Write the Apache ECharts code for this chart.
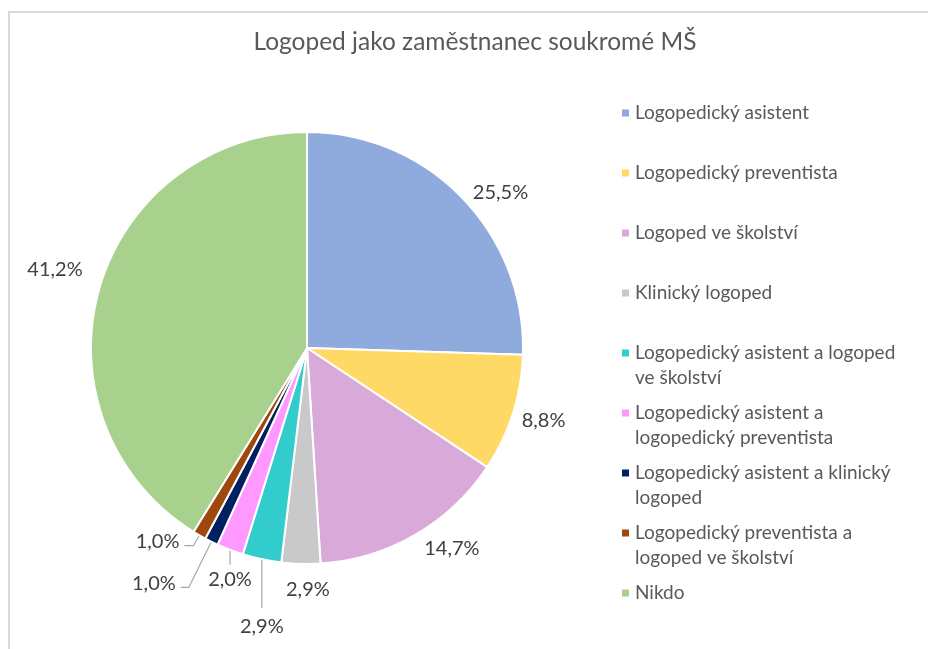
<!DOCTYPE html>
<html>
<head>
<meta charset="utf-8">
<script src="https://cdn.jsdelivr.net/npm/echarts@6/dist/echarts.min.js"></script>
<style>
  html, body { margin: 0; padding: 0; background: #fff; }
  #chart { width: 928px; height: 649px; position: relative; }
  #frame { position: absolute; left: 8px; top: 11px; right: -5px; bottom: -5px;
           border-top: 2px solid #d9d9d9; border-left: 2px solid #d9d9d9; pointer-events: none; }
</style>
</head>
<body>
<div id="chart"></div>
<div id="frame"></div>
<script>
const title = 'Logoped jako zaměstnanec soukromé MŠ';
const categories = [
  'Logopedický asistent',
  'Logopedický preventista',
  'Logoped ve školství',
  'Klinický logoped',
  'Logopedický asistent a logoped ve školství',
  'Logopedický asistent a logopedický preventista',
  'Logopedický asistent a klinický logoped',
  'Logopedický preventista a logoped ve školství',
  'Nikdo'
];
const legendLines = [
  ['Logopedický asistent'],
  ['Logopedický preventista'],
  ['Logoped ve školství'],
  ['Klinický logoped'],
  ['Logopedický asistent a logoped', 've školství'],
  ['Logopedický asistent a', 'logopedický preventista'],
  ['Logopedický asistent a klinický', 'logoped'],
  ['Logopedický preventista a', 'logoped ve školství'],
  ['Nikdo']
];
const values = [25.5, 8.8, 14.7, 2.9, 2.9, 2.0, 1.0, 1.0, 41.2];
const colors = ['#8FAADC', '#FFD966', '#D9A9DA', '#C9C9C9', '#33CCCC', '#FF99FF', '#002060', '#9E480E', '#A9D18E'];

const FONT = 'Lato, "Noto Sans", sans-serif';
const LINE_H = 25;

// label placement tweaks (style only): leader line length / gap below, extra shifts
const labelStyle = {
  0: { length: 8, length2: 0, line: false },
  1: { length: 4, length2: 0, line: false, dy: 6 },
  2: { length: 8, length2: 0, line: false, dy: 7 },
  3: { drop: 0, below: 26, dx: 7 },
  4: { drop: 49, below: 18 },
  5: { drop: 15, below: 15 },
  6: { length: 51, length2: 8, line: true, dy: -4 },
  7: { length: 12, length2: 9, line: true, dy: -4 },
  8: { length: 12, length2: 0, line: false, dy: -16 }
};

const chart = echarts.init(document.getElementById('chart'));

const legends = categories.map((name, i) => {
  const lines = legendLines[i];
  const extra = (lines.length - 1) * LINE_H;
  return {
    data: [name],
    orient: 'vertical',
    left: 620,
    top: 116 + i * 60 - LINE_H / 2,
    padding: 0,
    icon: 'rect',
    itemWidth: 9,
    itemHeight: 9,
    selectedMode: false,
    formatter: () => lines.map(l => '{t|' + l + '}').join('\n'),
    textStyle: {
      padding: [extra, 0, 0, 0],
      rich: {
        t: { fontFamily: FONT, fontSize: 19, color: '#595959', lineHeight: LINE_H }
      }
    }
  };
});

chart.setOption({
  color: colors,
  animation: false,
  title: {
    text: title,
    left: 475,
    textAlign: 'center',
    top: 30,
    padding: 0,
    textStyle: { fontFamily: FONT, fontSize: 24.5, fontWeight: 'normal', color: '#595959' }
  },
  legend: legends,
  series: [{
    type: 'pie',
    center: [307, 348],
    radius: 216,
    startAngle: 90,
    clockwise: true,
    avoidLabelOverlap: false,
    itemStyle: { borderColor: '#fff', borderWidth: 2 },
    label: {
      show: true,
      position: 'outside',
      fontFamily: FONT,
      fontSize: 20,
      color: '#404040',
      formatter: p => p.value.toFixed(1).replace('.', ',') + '%'
    },
    labelLine: {
      show: true,
      length: 12,
      length2: 8,
      lineStyle: { color: '#A6A6A6', width: 1.2 }
    },
    labelLayout: params => {
      const s = labelStyle[params.dataIndex];
      if (s.drop === undefined) {
        return { dx: s.dx || 0, dy: s.dy || 0 };
      }
      const p0 = params.labelLinePoints[0];
      const end = [p0[0], p0[1] + s.drop];
      return {
        x: p0[0] + (s.dx || 0),
        y: end[1] + s.below,
        align: 'center',
        verticalAlign: 'middle',
        labelLinePoints: s.drop > 0 ? [p0, end, end] : [p0, p0, p0]
      };
    },
    data: categories.map((name, i) => {
      const s = labelStyle[i];
      return {
        name,
        value: values[i],
        labelLine: s.drop !== undefined
          ? { show: true, length: 1, length2: 0 }
          : { show: s.line, length: s.length, length2: s.length2 }
      };
    })
  }]
});
</script>
</body>
</html>
